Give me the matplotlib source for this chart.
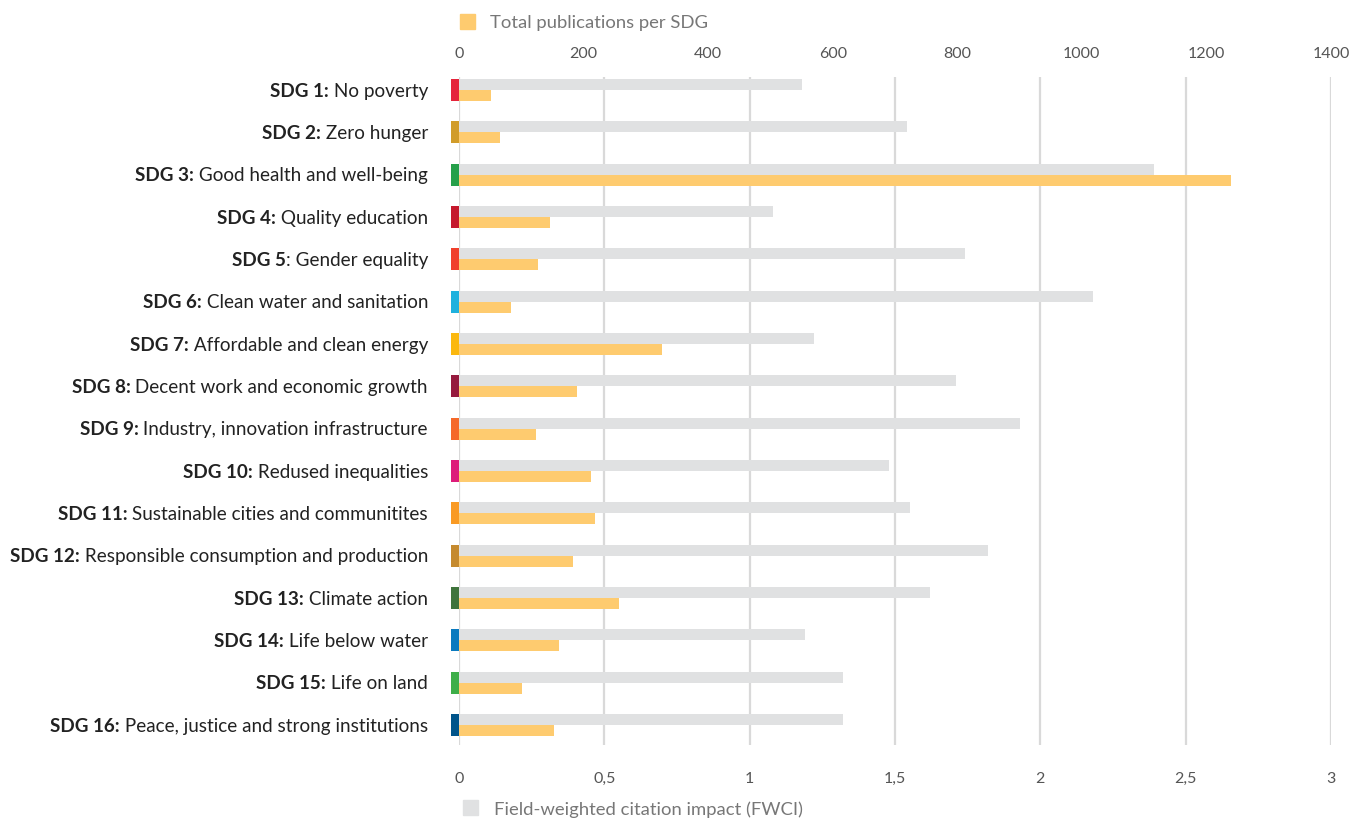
import matplotlib.pyplot as plt

# data
sdg_nums = ["SDG 1:", "SDG 2:", "SDG 3:", "SDG 4:", "SDG 5", "SDG 6:", "SDG 7:", "SDG 8:",
            "SDG 9:", "SDG 10:", "SDG 11:", "SDG 12:", "SDG 13:", "SDG 14:", "SDG 15:", "SDG 16:"]
sdg_names = [" No poverty", " Zero hunger", " Good health and well-being", " Quality education",
             ": Gender equality", " Clean water and sanitation", " Affordable and clean energy",
             " Decent work and economic growth", " Industry, innovation infrastructure",
             " Redused inequalities", " Sustainable cities and communitites",
             " Responsible consumption and production", " Climate action", " Life below water",
             " Life on land", " Peace, justice and strong institutions"]
fwci = [1.18, 1.54, 2.39, 1.08, 1.74, 2.18, 1.22, 1.71, 1.93, 1.48, 1.55, 1.82, 1.62, 1.19, 1.32, 1.32]
publications = [51, 66, 1239, 146, 127, 83, 326, 189, 124, 212, 218, 183, 257, 160, 101, 152]
sdg_colors = ["#E5243B", "#D19C2A", "#26A04A", "#C5192D", "#F0402C", "#1FB1DE", "#FBB80F", "#961A3E",
              "#F5692A", "#DD1C7A", "#F99A24", "#C58A2E", "#3F743C", "#0A7ABF", "#3EAE49", "#00548A"]

fwci_ticks = [0, 0.5, 1, 1.5, 2, 2.5, 3]
fwci_ticklabels = ["0", "0,5", "1", "1,5", "2", "2,5", "3"]
pub_ticks = [0, 200, 400, 600, 800, 1000, 1200, 1400]

GREY = "#E0E1E2"
ORANGE = "#FECB6F"
TXT = "#555555"

plt.rcParams['font.family'] = ['Lato', 'DejaVu Sans']

fig = plt.figure(figsize=(13.52, 8.2), dpi=100)
ax = fig.add_axes([459 / 1352, 1 - 746 / 820, 872 / 1352, (746 - 78) / 820])
ax2 = ax.twiny()

n = len(fwci)
ys = list(range(n))
h = 0.26

ax.barh([y - h / 2 for y in ys], fwci, height=h, color=GREY, zorder=2)
ax2.barh([y + h / 2 for y in ys], publications, height=h, color=ORANGE, zorder=2)
ax.barh(ys, [-0.028] * n, height=2 * h, color=sdg_colors, zorder=3, clip_on=False)

ax.set_xlim(0, 3)
ax2.set_xlim(0, 1400)
ax.set_ylim(n - 1 + 0.47, -0.31)

ax.set_xticks(fwci_ticks)
ax.set_xticklabels(fwci_ticklabels)
ax2.set_xticks(pub_ticks)
ax.set_yticks([])
ax.grid(axis='x', color="#D9D9D9", linewidth=1.6, zorder=0)
ax.set_axisbelow(True)

for a in (ax, ax2):
    for s in a.spines.values():
        s.set_visible(False)
    a.tick_params(length=0, labelsize=11.5, labelcolor=TXT)
ax.tick_params(axis='x', pad=18.5)
ax2.tick_params(axis='x', pad=12.5)

# category labels: regular part right aligned, bold prefix in front of it
for y, num, name in zip(ys, sdg_nums, sdg_names):
    t = ax.annotate(name, xy=(0, y), xycoords=('axes fraction', 'data'), xytext=(-31, 0),
                    textcoords='offset pixels', ha='right', va='center',
                    fontsize=13.6, color="#222222")
    ax.annotate(num, xy=(0, 0.5), xycoords=t, ha='right', va='center',
                fontsize=13.6, fontweight='bold', color="#222222")

# legends
fig.patches.append(plt.Rectangle((460 / 1352, 1 - 30 / 820), 15 / 1352, 15 / 820,
                                 color=ORANGE, transform=fig.transFigure, figure=fig))
fig.text(490 / 1352, 1 - 23 / 820, "Total publications per SDG", fontsize=13.3, color="#777777",
         va='center', ha='left')
fig.patches.append(plt.Rectangle((463 / 1352, 1 - 816 / 820), 15 / 1352, 15 / 820,
                                 color=GREY, transform=fig.transFigure, figure=fig))
fig.text(494 / 1352, 1 - 810 / 820, "Field-weighted citation impact (FWCI)", fontsize=13.3,
         color="#777777", va='center', ha='left')

fig.savefig("out.png", dpi=100)
